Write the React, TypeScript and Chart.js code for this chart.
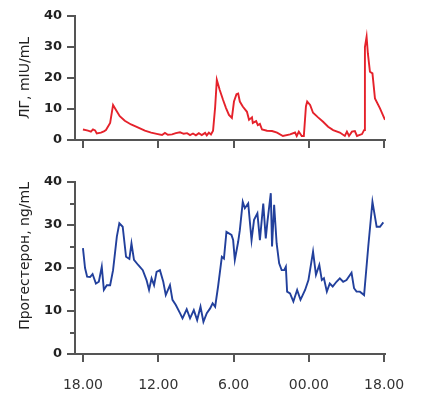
import React, { useEffect, useRef } from 'react';
import { Chart, registerables } from 'chart.js';

Chart.register(...registerables);

// X axis: hours from the first sample; labels every 18 h
const tickHours = [0, 18, 36, 54, 72];
const tickLabels = ['18.00', '12.00', '6.00', '00.00', '18.00'];
const yTicks = [0, 10, 20, 30, 40];
const minorYTicks = [5, 15, 25, 35];

// ЛГ (LH), mIU/mL
const lhHours = [
  0, 0.7, 1.2, 1.9, 2.4, 2.9, 3.3, 4.3, 5.0, 5.5, 6.5, 7.2, 7.9, 8.8, 10.0, 11.5, 13.1, 14.8, 16.3, 17.9,
  18.9, 19.6, 20.3, 21.3, 22.2, 23.2, 24.1, 24.9, 25.6, 26.3, 27.0, 27.7, 28.4, 29.2, 29.6, 30.1, 30.6, 31.1,
  31.6, 32.0, 32.7, 33.5, 34.2, 34.9, 35.6, 36.1, 36.7, 37.1, 37.5, 38.2, 39.2, 39.7, 40.4, 40.6, 41.4, 41.8,
  42.3, 42.8, 44.0, 45.2, 46.4, 47.8, 49.5, 50.7, 51.1, 51.6, 52.3, 52.8, 53.3, 53.6, 54.3, 55.0, 56.2, 57.4,
  58.6, 59.8, 61.4, 62.6, 63.1, 63.6, 64.3, 65.0, 65.5, 66.7, 67.2, 67.4, 67.8, 68.1, 68.6, 69.2, 69.8, 71.0, 72.2,
];
const lhValues = [
  3.4, 3.2, 3.0, 2.7, 3.4, 3.1, 2.1, 2.4, 2.8, 3.2, 5.5, 11.3, 9.7, 7.7, 6.2, 5.0, 4.1, 3.0, 2.4, 1.9,
  1.6, 2.3, 1.7, 1.8, 2.2, 2.5, 2.0, 2.2, 1.6, 2.1, 1.5, 2.2, 1.6, 2.3, 1.5, 2.4, 1.8, 3.0,
  10.6, 19.4, 16.1, 12.9, 10.3, 8.1, 7.1, 12.4, 14.8, 15.0, 12.4, 10.8, 9.1, 6.5, 7.3, 5.5, 6.1, 4.8,
  5.2, 3.4, 3.0, 2.9, 2.4, 1.3, 1.8, 2.4, 1.3, 2.7, 1.3, 1.3, 10.8, 12.4, 11.3, 8.8, 7.3, 5.9,
  4.3, 3.2, 2.4, 1.3, 2.7, 1.3, 2.7, 2.9, 1.3, 1.9, 3.2, 30.0, 33.3, 28.0, 22.0, 21.5, 13.4, 10.2, 6.5,
];

// Прогестерон, ng/mL
const progHours = [
  0, 0.5, 1.0, 1.7, 2.3, 3.1, 3.8, 4.5, 5.0, 5.7, 6.5, 7.2, 8.1, 8.7, 9.5, 10.3, 11.1, 11.6, 12.2, 13.2,
  14.3, 15.2, 15.8, 16.4, 17.0, 17.6, 18.4, 19.2, 19.8, 20.8, 21.4, 22.2, 23.2, 23.8, 24.8, 25.6, 26.5, 27.3,
  28.1, 28.8, 29.6, 30.4, 31.0, 31.6, 32.3, 33.2, 33.7, 34.3, 35.5, 35.9, 36.3, 37.1, 37.5, 38.2, 38.7, 39.5,
  40.3, 40.9, 41.7, 42.3, 43.1, 43.7, 44.1, 44.9, 45.2, 45.7, 46.3, 46.9, 47.5, 48.1, 48.5, 48.8, 49.5, 50.3,
  51.2, 52.0, 53.1, 53.9, 55.0, 55.7, 56.5, 57.1, 57.6, 58.3, 59.0, 59.7, 60.6, 61.4, 62.2, 63.0, 64.2, 64.8,
  65.4, 66.2, 67.2, 68.2, 69.2, 70.2, 71.0, 71.8,
];
const progValues = [
  24.6, 20.0, 18.0, 17.9, 18.6, 16.4, 16.8, 20.3, 14.9, 16.0, 16.0, 19.5, 27.3, 30.4, 29.6, 22.6, 22.1, 25.7, 21.9, 20.7,
  19.5, 17.2, 14.9, 17.6, 16.0, 19.1, 19.5, 16.8, 13.7, 16.0, 12.6, 11.4, 9.5, 8.3, 10.4, 8.3, 10.2, 7.9,
  11.0, 7.5, 9.5, 10.6, 11.8, 11.0, 15.7, 22.6, 22.2, 28.4, 27.7, 26.5, 21.9, 26.1, 28.8, 35.4, 33.9, 35.0,
  26.5, 31.2, 32.7, 26.5, 35.0, 26.9, 30.8, 37.4, 25.0, 34.7, 25.7, 21.1, 19.5, 19.5, 20.3, 14.5, 14.1, 12.2,
  14.9, 12.6, 14.9, 17.2, 23.8, 18.4, 20.7, 17.2, 17.6, 14.5, 16.4, 15.7, 16.8, 17.6, 16.8, 17.2, 18.9, 15.3,
  14.5, 14.5, 13.7, 25.0, 35.4, 29.6, 29.6, 30.6,
];

const AXIS = '#555555';
const FONT = "'DejaVu Sans', Verdana, sans-serif";

function buildConfig(opts: {
  hours: number[];
  values: number[];
  color: string;
  title: string;
  titleAlign: 'center' | 'end';
  showXLabels: boolean;
  padTop: number;
  xHeight: number;
  minor: boolean;
}): any {
  const minorPlugin = {
    id: 'minorTicks',
    afterDraw(chart: any) {
      if (!opts.minor) return;
      const y = chart.scales.y;
      const ctx = chart.ctx;
      ctx.save();
      ctx.strokeStyle = AXIS;
      ctx.lineWidth = 2;
      minorYTicks.forEach((v) => {
        const py = Math.round(y.getPixelForValue(v));
        ctx.beginPath();
        ctx.moveTo(y.right - 5, py);
        ctx.lineTo(y.right, py);
        ctx.stroke();
      });
      ctx.restore();
    },
  };
  return {
    type: 'line',
    data: {
      datasets: [
        {
          data: opts.hours.map((h, i) => ({ x: h, y: opts.values[i] })),
          borderColor: opts.color,
          borderWidth: 1.9,
          pointRadius: 0,
          tension: 0,
          fill: false,
        },
      ],
    },
    options: {
      animation: false,
      responsive: false,
      events: [],
      layout: { padding: { top: opts.padTop, right: 37, left: 0, bottom: 0 } },
      plugins: { legend: { display: false }, tooltip: { enabled: false } },
      scales: {
        x: {
          type: 'linear',
          min: -1.9,
          max: 72.2,
          afterBuildTicks: (s: any) => {
            s.ticks = tickHours.map((v) => ({ value: v }));
          },
          afterFit: (s: any) => {
            s.height = opts.xHeight;
          },
          grid: { display: true, drawOnChartArea: false, drawTicks: true, tickLength: 8, color: AXIS, lineWidth: 2 },
          border: { display: true, color: AXIS, width: 2 },
          ticks: {
            display: opts.showXLabels,
            autoSkip: false,
            maxRotation: 0,
            padding: 15,
            color: '#333',
            font: { family: FONT, size: 14 },
            callback: (v: number) => tickLabels[tickHours.indexOf(v)] ?? '',
          },
        },
        y: {
          min: 0,
          max: 40,
          afterBuildTicks: (s: any) => {
            s.ticks = yTicks.map((v) => ({ value: v }));
          },
          afterFit: (s: any) => {
            s.width = 75;
          },
          grid: { display: true, drawOnChartArea: false, drawTicks: true, tickLength: 8, color: AXIS, lineWidth: 2 },
          border: { display: true, color: AXIS, width: 2 },
          ticks: {
            padding: 5,
            color: '#222',
            font: { family: FONT, size: 13, weight: 'bold' },
          },
          title: {
            display: true,
            text: opts.title,
            align: opts.titleAlign,
            color: '#222',
            font: { family: FONT, size: 14 },
            padding: { top: 16.6, bottom: 0 },
          },
        },
      },
    },
    plugins: [minorPlugin],
  };
}

export default function App() {
  const topRef = useRef<HTMLCanvasElement>(null);
  const botRef = useRef<HTMLCanvasElement>(null);

  useEffect(() => {
    document.body.style.margin = '0';
    const c1 = new Chart(
      topRef.current as HTMLCanvasElement,
      buildConfig({
        hours: lhHours,
        values: lhValues,
        color: '#e5222b',
        title: 'ЛГ, mIU/mL',
        titleAlign: 'center',
        showXLabels: false,
        padTop: 16,
        xHeight: 20,
        minor: false,
      })
    );
    const c2 = new Chart(
      botRef.current as HTMLCanvasElement,
      buildConfig({
        hours: progHours,
        values: progValues,
        color: '#22409c',
        title: 'Прогестерон, ng/mL',
        titleAlign: 'end',
        showXLabels: true,
        padTop: 22,
        xHeight: 46,
        minor: true,
      })
    );
    return () => {
      c1.destroy();
      c2.destroy();
    };
  }, []);

  return (
    <div style={{ position: 'relative', width: 422, height: 400, background: '#fff' }}>
      <canvas ref={topRef} width={422} height={160} style={{ position: 'absolute', left: 0, top: 0, width: 422, height: 160 }} />
      <canvas ref={botRef} width={422} height={240} style={{ position: 'absolute', left: 0, top: 160, width: 422, height: 240 }} />
    </div>
  );
}
